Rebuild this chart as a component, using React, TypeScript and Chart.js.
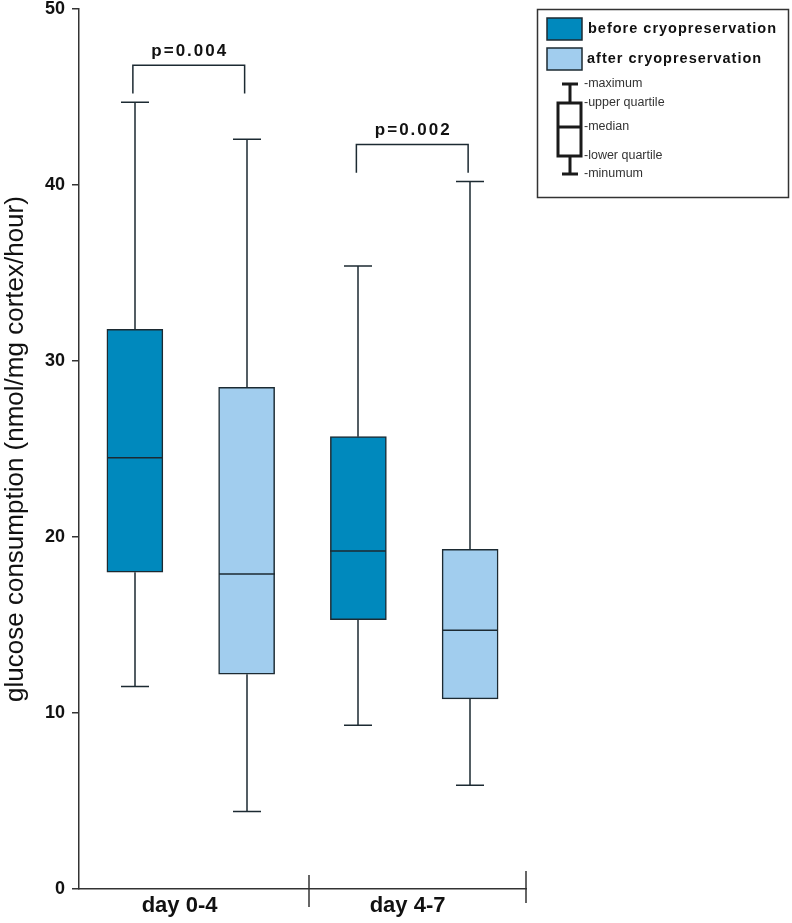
import React, { useEffect, useRef } from 'react';
import { Chart, registerables } from 'chart.js';

Chart.register(...registerables);

// ---- data ----
const categories = ['day 0-4', 'day 4-7'];
const seriesLabels = ['before cryopreservation', 'after cryopreservation'];
const seriesColors = ['#0089bd', '#a1cdee'];

const beforeMin = [11.5, 9.3];
const beforeQ1 = [18.0, 15.3];
const beforeMedian = [24.5, 19.2];
const beforeQ3 = [31.8, 25.7];
const beforeMax = [44.7, 35.4];

const afterMin = [4.4, 5.9];
const afterQ1 = [12.2, 10.8];
const afterMedian = [17.9, 14.7];
const afterQ3 = [28.5, 19.3];
const afterMax = [42.6, 40.2];

const yTicks = [0, 10, 20, 30, 40, 50];
const pLabels = ['p=0.004', 'p=0.002'];
const pBracketTop = [46.8, 42.3];
const pBracketLegEnd = [45.2, 40.7];
const keyLabels = ['-maximum', '-upper quartile', '-median', '-lower quartile', '-minumum'];

// x-scale values for category labels and group dividers
const xLabelAt = [0.9, 2.94];
const xDividerAt = [2.06, 4];

const mins = [beforeMin, afterMin];
const q1s = [beforeQ1, afterQ1];
const meds = [beforeMedian, afterMedian];
const q3s = [beforeQ3, afterQ3];
const maxs = [beforeMax, afterMax];

const FONT = '"Liberation Sans", Arial, sans-serif';
const EDGE = '#1c2a32';
const AXIS = '#333333';

const boxX = (g: number, s: number) => 2 * g + s + 0.5;

const boxPlugin = {
  id: 'boxExtras',
  afterDatasetsDraw(chart: any) {
    const ctx = chart.ctx as CanvasRenderingContext2D;
    const xs = chart.scales.x;
    const ys = chart.scales.y;
    ctx.save();
    // whiskers and medians
    ctx.strokeStyle = EDGE;
    ctx.lineWidth = 1.5;
    const half = 28;
    const capHalf = 14;
    categories.forEach((_, g) => {
      [0, 1].forEach((s) => {
        const cx = Math.round(xs.getPixelForValue(boxX(g, s)));
        const pMin = ys.getPixelForValue(mins[s][g]);
        const pQ1 = ys.getPixelForValue(q1s[s][g]);
        const pMed = ys.getPixelForValue(meds[s][g]);
        const pQ3 = ys.getPixelForValue(q3s[s][g]);
        const pMax = ys.getPixelForValue(maxs[s][g]);
        ctx.beginPath();
        ctx.moveTo(cx, pQ3);
        ctx.lineTo(cx, pMax);
        ctx.moveTo(cx - capHalf, pMax);
        ctx.lineTo(cx + capHalf, pMax);
        ctx.moveTo(cx, pQ1);
        ctx.lineTo(cx, pMin);
        ctx.moveTo(cx - capHalf, pMin);
        ctx.lineTo(cx + capHalf, pMin);
        ctx.moveTo(cx - half, pMed);
        ctx.lineTo(cx + half, pMed);
        ctx.stroke();
      });
      // significance bracket
      const x1 = xs.getPixelForValue(boxX(g, 0)) - 2;
      const x2 = xs.getPixelForValue(boxX(g, 1)) - 2;
      const yt = ys.getPixelForValue(pBracketTop[g]);
      const yl = ys.getPixelForValue(pBracketLegEnd[g]);
      ctx.beginPath();
      ctx.moveTo(x1, yl);
      ctx.lineTo(x1, yt);
      ctx.lineTo(x2, yt);
      ctx.lineTo(x2, yl);
      ctx.stroke();
      ctx.fillStyle = '#111';
      ctx.font = `bold 17px ${FONT}`;
      (ctx as any).letterSpacing = '2px';
      ctx.textAlign = 'center';
      ctx.textBaseline = 'middle';
      ctx.fillText(pLabels[g], (x1 + x2) / 2 + 1, yt - 14);
      (ctx as any).letterSpacing = '0px';
    });
    // x-axis group dividers crossing the axis
    ctx.strokeStyle = AXIS;
    ctx.lineWidth = 1.5;
    const yb = ys.getPixelForValue(0);
    xDividerAt.forEach((v, i) => {
      const px = Math.round(xs.getPixelForValue(v));
      ctx.beginPath();
      if (i === 0) {
        ctx.moveTo(px, yb - 14);
        ctx.lineTo(px, yb + 18);
      } else {
        ctx.moveTo(px, yb - 18);
        ctx.lineTo(px, yb + 14);
      }
      ctx.stroke();
    });
    ctx.restore();
  },
  afterDraw(chart: any) {
    const ctx = chart.ctx as CanvasRenderingContext2D;
    const L = chart.chartArea.right + 12;
    const T = 9;
    ctx.save();
    // legend frame
    ctx.strokeStyle = AXIS;
    ctx.lineWidth = 1.5;
    ctx.strokeRect(L - 0.5, T + 0.5, 251, 188);
    // series swatches
    seriesLabels.forEach((label, s) => {
      const sy = T + 9 + s * 30;
      ctx.fillStyle = seriesColors[s];
      ctx.fillRect(L + 9, sy, 35, 22);
      ctx.strokeStyle = EDGE;
      ctx.lineWidth = 1.5;
      ctx.strokeRect(L + 9, sy, 35, 22);
      ctx.fillStyle = '#111';
      ctx.font = `bold 14.5px ${FONT}`;
      (ctx as any).letterSpacing = '1px';
      ctx.textAlign = 'left';
      ctx.textBaseline = 'middle';
      ctx.fillText(label, L + 50 - s, sy + 11);
      (ctx as any).letterSpacing = '0px';
    });
    // boxplot key
    const kx = L + 32;
    const yMax = 84, yQ3 = 103, yMed = 127, yQ1 = 156, yMin = 174;
    ctx.strokeStyle = '#1a1a1a';
    ctx.lineWidth = 3;
    ctx.beginPath();
    ctx.moveTo(kx - 8, yMax); ctx.lineTo(kx + 8, yMax);
    ctx.moveTo(kx, yMax); ctx.lineTo(kx, yQ3);
    ctx.moveTo(kx, yQ1); ctx.lineTo(kx, yMin);
    ctx.moveTo(kx - 8, yMin); ctx.lineTo(kx + 8, yMin);
    ctx.moveTo(kx - 12, yMed); ctx.lineTo(kx + 11, yMed);
    ctx.stroke();
    ctx.strokeRect(kx - 12, yQ3, 23, yQ1 - yQ3);
    ctx.fillStyle = '#333';
    ctx.font = `12.5px ${FONT}`;
    ctx.textAlign = 'left';
    ctx.textBaseline = 'middle';
    [yMax, yQ3, yMed, yQ1, yMin].forEach((ky, i) => {
      ctx.fillText(keyLabels[i], kx + 14, ky);
    });
    ctx.restore();
  },
};

export default function App() {
  const ref = useRef<HTMLCanvasElement>(null);
  useEffect(() => {
    document.body.style.margin = '0';
    const canvas = ref.current!;
    const datasets = seriesLabels.map((label, s) => ({
      type: 'bar' as const,
      label,
      data: categories.map((_, g) => ({ x: boxX(g, s), y: [q1s[s][g], q3s[s][g]] })),
      backgroundColor: seriesColors[s],
      borderColor: EDGE,
      borderWidth: 1.5,
      borderSkipped: false,
      barThickness: 56,
      grouped: false,
    }));
    const chart = new Chart(canvas, {
      type: 'bar',
      data: { datasets } as any,
      options: {
        responsive: false,
        animation: false,
        devicePixelRatio: 1,
        layout: { autoPadding: false, padding: { left: 0, top: 9, right: 266, bottom: 0 } },
        plugins: { legend: { display: false }, tooltip: { enabled: false } },
        scales: {
          x: {
            type: 'linear',
            min: 0,
            max: 4,
            offset: false,
            afterFit: (s: any) => { s.height = 34; s.paddingLeft = 0; s.paddingRight = 0; },
            afterBuildTicks: (s: any) => { s.ticks = xLabelAt.map((v) => ({ value: v })); },
            ticks: {
              autoSkip: false,
              maxRotation: 0,
              padding: 4,
              color: '#111',
              font: { family: FONT, size: 22, weight: 'bold' },
              callback: (v: any) => {
                const i = xLabelAt.indexOf(Number(v));
                return i >= 0 ? categories[i] : '';
              },
            },
            grid: { display: false, drawTicks: false },
            border: { display: true, color: AXIS, width: 1.5 },
          },
          y: {
            min: 0,
            max: 50,
            afterFit: (s: any) => { s.width = 79; s.paddingTop = 0; s.paddingBottom = 0; },
            afterBuildTicks: (s: any) => { s.ticks = yTicks.map((v) => ({ value: v })); },
            ticks: {
              padding: 7,
              color: '#111',
              font: { family: FONT, size: 18, weight: 'bold' },
            },
            grid: { drawOnChartArea: false, drawTicks: true, tickLength: 7, color: AXIS, lineWidth: 1.5 },
            border: { display: true, color: AXIS, width: 1.5 },
            title: {
              display: true,
              text: 'glucose consumption (nmol/mg cortex/hour)',
              color: '#111',
              font: { family: FONT, size: 26, weight: 'normal' },
              padding: { top: 0, bottom: 0 },
            },
          },
        },
      } as any,
      plugins: [boxPlugin],
    });
    return () => chart.destroy();
  }, []);
  return (
    <div style={{ position: 'fixed', left: 0, top: 0, width: 792, height: 923 }}>
      <canvas ref={ref} width={792} height={923} style={{ display: 'block' }} />
    </div>
  );
}
